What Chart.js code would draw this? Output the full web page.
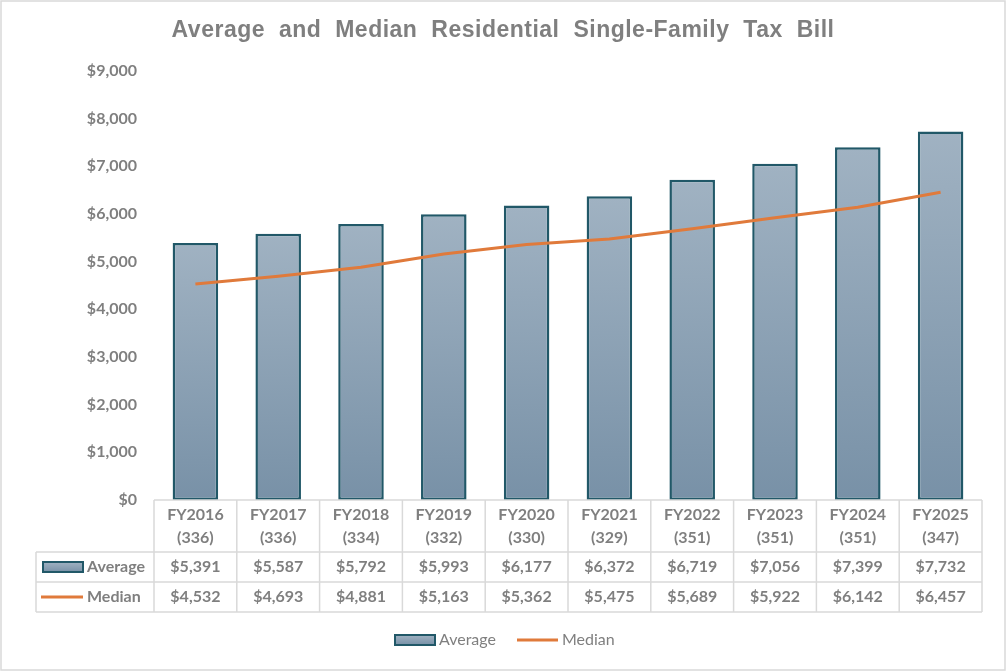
<!DOCTYPE html>
<html>
<head>
<meta charset="utf-8">
<script src="https://cdn.jsdelivr.net/npm/chart.js@4.4.1/dist/chart.umd.min.js"></script>
<style>
  html, body { margin: 0; padding: 0; background: #fff; }
  canvas { display: block; }
</style>
</head>
<body>
<canvas id="chart" width="1006" height="671"></canvas>
<script>
// data
var titleText = 'Average and Median Residential Single-Family Tax Bill';
var years = ['FY2016', 'FY2017', 'FY2018', 'FY2019', 'FY2020', 'FY2021', 'FY2022', 'FY2023', 'FY2024', 'FY2025'];
var counts = [336, 336, 334, 332, 330, 329, 351, 351, 351, 347];
var average = [5391, 5587, 5792, 5993, 6177, 6372, 6719, 7056, 7399, 7732];
var median = [4532, 4693, 4881, 5163, 5362, 5475, 5689, 5922, 6142, 6457];
var yTicks = [0, 1000, 2000, 3000, 4000, 5000, 6000, 7000, 8000, 9000];

var grey = '#7f7f7f';
var barEdge = '#215868';
var orange = '#e07a3b';
var tableLine = '#d9d9d9';

function money(v) {
    return '$' + v.toLocaleString('en-US');
}

function barGradient(ctx, top, bottom) {
    var g = ctx.createLinearGradient(0, top, 0, bottom);
    g.addColorStop(0, '#a0b2c2');
    g.addColorStop(1, '#7891a7');
    return g;
}

// title, data table + legend, placed from the x scale
var tablePlugin = {
    id: 'dataTable',
    afterDraw: function(chart) {
        var ctx = chart.ctx;
        var x = chart.scales.x;
        var area = chart.chartArea;
        var left = area.left, right = area.right;
        var top = area.bottom;
        var headBottom = top + 52;
        var row1 = headBottom + 30;
        var row2 = row1 + 30;
        var labelLeft = 36;
        var half = (x.getPixelForValue(1) - x.getPixelForValue(0)) / 2;

        ctx.save();
        // title (spaced out like the original)
        ctx.fillStyle = grey;
        ctx.font = 'bold 23px "Liberation Sans"';
        ctx.textAlign = 'center';
        ctx.textBaseline = 'middle';
        ctx.letterSpacing = '0.5px';
        ctx.wordSpacing = '7px';
        ctx.fillText(titleText, 503, 31);
        ctx.letterSpacing = '0px';
        ctx.wordSpacing = '0px';

        // outer frame
        ctx.strokeStyle = tableLine;
        ctx.lineWidth = 1.5;
        ctx.strokeRect(1, 1, chart.width - 2, chart.height - 2);

        ctx.beginPath();
        ctx.moveTo(left, top); ctx.lineTo(right, top);
        ctx.moveTo(labelLeft, headBottom); ctx.lineTo(right, headBottom);
        ctx.moveTo(labelLeft, row1); ctx.lineTo(right, row1);
        ctx.moveTo(labelLeft, row2); ctx.lineTo(right, row2);
        ctx.moveTo(labelLeft, headBottom); ctx.lineTo(labelLeft, row2);
        for (var i = 0; i <= years.length; i++) {
            var gx = (i < years.length) ? x.getPixelForValue(i) - half : x.getPixelForValue(i - 1) + half;
            ctx.moveTo(gx, top); ctx.lineTo(gx, row2);
        }
        ctx.stroke();

        ctx.fillStyle = grey;
        ctx.font = 'bold 16px Lato';
        for (var j = 0; j < years.length; j++) {
            var cx = x.getPixelForValue(j);
            ctx.fillText(years[j], cx, top + 15);
            ctx.fillText('(' + counts[j] + ')', cx, top + 38);
            ctx.fillText(money(average[j]), cx, headBottom + 15);
            ctx.fillText(money(median[j]), cx, row1 + 15);
        }

        // row keys
        var sets = chart.data.datasets;
        ctx.textAlign = 'left';
        ctx.fillStyle = barGradient(ctx, headBottom + 10, headBottom + 20);
        ctx.fillRect(43, headBottom + 10, 40, 10);
        ctx.strokeStyle = barEdge;
        ctx.lineWidth = 2;
        ctx.strokeRect(43, headBottom + 10, 40, 10);
        ctx.strokeStyle = orange;
        ctx.lineWidth = 3;
        ctx.beginPath();
        ctx.moveTo(41, row1 + 15); ctx.lineTo(83, row1 + 15);
        ctx.stroke();
        ctx.fillStyle = grey;
        ctx.fillText(sets[0].label, 87, headBottom + 15);
        ctx.fillText(sets[1].label, 87, row1 + 15);

        // legend
        var ly = 640;
        ctx.fillStyle = barGradient(ctx, ly - 5, ly + 5);
        ctx.fillRect(395, ly - 5, 40, 10);
        ctx.strokeStyle = barEdge;
        ctx.lineWidth = 2;
        ctx.strokeRect(395, ly - 5, 40, 10);
        ctx.strokeStyle = orange;
        ctx.lineWidth = 3;
        ctx.beginPath();
        ctx.moveTo(517, ly); ctx.lineTo(558, ly);
        ctx.stroke();
        ctx.font = '16px Lato';
        ctx.fillStyle = grey;
        ctx.fillText(sets[0].label, 439, ly);
        ctx.fillText(sets[1].label, 562, ly);
        ctx.restore();
    }
};

var ctx = document.getElementById('chart');
var chart = new Chart(ctx, {
    type: 'bar',
    data: {
        labels: years,
        datasets: [{
            type: 'bar',
            label: 'Average',
            data: average,
            backgroundColor: function(c) {
                var ch = c.chart;
                if (!ch.chartArea || c.raw === undefined) return '#8da1b5';
                var yS = ch.scales.y;
                return barGradient(ch.ctx, yS.getPixelForValue(c.raw), yS.getPixelForValue(0));
            },
            borderColor: barEdge,
            borderWidth: 2.5,
            borderSkipped: false,
            barPercentage: 0.55,
            categoryPercentage: 1,
            order: 2
        }, {
            type: 'line',
            label: 'Median',
            data: median,
            borderColor: orange,
            backgroundColor: orange,
            borderWidth: 3,
            pointRadius: 0,
            tension: 0,
            order: 1
        }]
    },
    options: {
        responsive: false,
        animation: false,
        devicePixelRatio: 1,
        layout: { padding: { left: 0, right: 24, top: 71, bottom: 59 } },
        plugins: {
            legend: { display: false },
            tooltip: { enabled: false },
            title: { display: false }
        },
        scales: {
            x: {
                grid: { display: false, drawTicks: false },
                border: { display: false },
                ticks: { display: false },
                afterFit: function(s) { s.height = 112; }
            },
            y: {
                min: 0,
                max: 9000,
                afterBuildTicks: function(s) { s.ticks = yTicks.map(function(v) { return { value: v }; }); },
                grid: { display: false, drawTicks: false },
                border: { display: false },
                ticks: {
                    padding: 17,
                    color: grey,
                    font: { family: 'Lato', size: 16, weight: 'bold' },
                    callback: function(v) { return money(v); }
                },
                afterFit: function(s) { s.width = 154; }
            }
        }
    },
    plugins: [tablePlugin]
});
</script>
</body>
</html>
